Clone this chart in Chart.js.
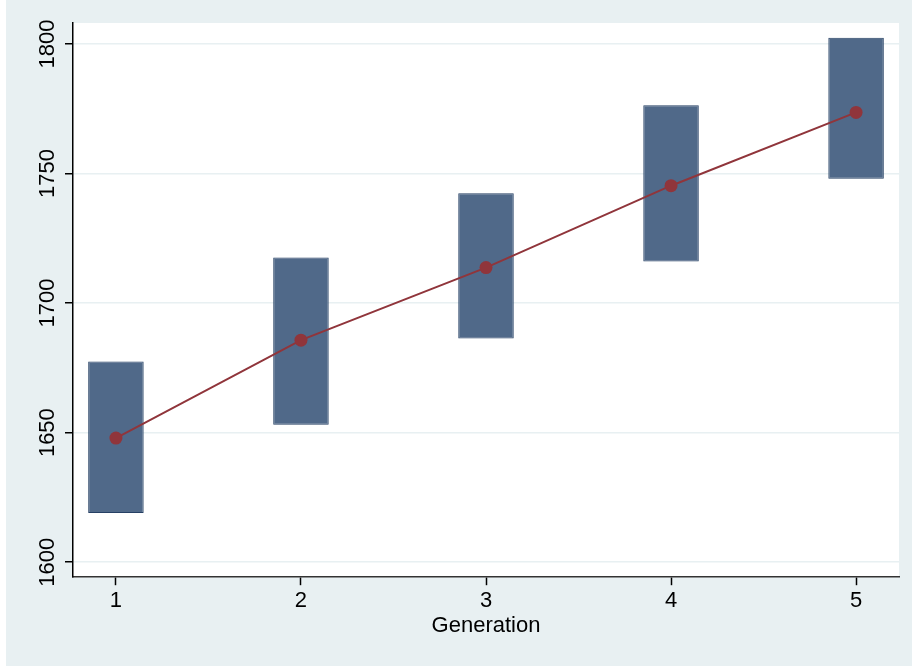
<!DOCTYPE html>
<html lang="en">
<head>
  <meta charset="UTF-8">
  <title>Generation</title>
  <script src="https://cdn.jsdelivr.net/npm/chart.js"></script>
  <style>
    body { margin: 0; background: #fff; }
    #wrap { position: absolute; left: 6px; top: 0; width: 906px; height: 666px; background: #e8f0f2; }
    canvas { display: block; }
  </style>
</head>
<body>
  <div id="wrap"><canvas id="grafico" width="906" height="666"></canvas></div>

  <script>
    // generation, interval bounds and means
    const generations = [1, 2, 3, 4, 5];
    const ciLow = [1619, 1653, 1686.3, 1716, 1748];
    const ciHigh = [1677.5, 1717.6, 1742.4, 1776.4, 1802.4];
    const means = [1647.9, 1685.7, 1713.7, 1745.3, 1773.6];
    const xTicks = [1, 2, 3, 4, 5];
    const yTicks = [1600, 1650, 1700, 1750, 1800];

    const fontFamily = '"Liberation Sans", Arial, Helvetica, sans-serif';

    // white plot region behind the marks
    const plotBg = {
      id: 'plotBg',
      beforeDraw(chart) {
        const a = chart.chartArea;
        const ctx = chart.ctx;
        ctx.save();
        ctx.fillStyle = '#ffffff';
        ctx.fillRect(a.left, a.top, a.right - a.left, a.bottom - a.top);
        ctx.restore();
      }
    };

    // vertical y tick labels (Stata style)
    const yLabels = {
      id: 'yLabels',
      afterDraw(chart) {
        const y = chart.scales.y;
        const ctx = chart.ctx;
        ctx.save();
        ctx.font = '22px ' + fontFamily;
        ctx.fillStyle = '#000';
        ctx.textAlign = 'center';
        ctx.textBaseline = 'middle';
        yTicks.forEach(v => {
          ctx.save();
          ctx.translate(y.right - 25, y.getPixelForValue(v));
          ctx.rotate(-Math.PI / 2);
          ctx.fillText(String(v), 0, 0);
          ctx.restore();
        });
        ctx.restore();
      }
    };

    const ctx = document.getElementById('grafico').getContext('2d');
    new Chart(ctx, {
      type: 'bar',
      data: {
        datasets: [
          {
            type: 'line',
            order: 0,
            data: generations.map((g, i) => ({ x: g, y: means[i] })),
            borderColor: 'rgb(144,53,59)',
            backgroundColor: 'rgb(144,53,59)',
            borderWidth: 2,
            pointRadius: 6.5,
            pointBorderWidth: 0,
            tension: 0
          },
          {
            type: 'bar',
            order: 1,
            data: generations.map((g, i) => ({ x: g, y: [ciLow[i], ciHigh[i]] })),
            backgroundColor: 'rgb(80,105,137)',
            borderColor: 'rgb(38,64,100)',
            borderWidth: 1,
            borderSkipped: false,
            barPercentage: 0.3,
            categoryPercentage: 1
          }
        ]
      },
      options: {
        responsive: false,
        animation: false,
        layout: { padding: { left: 0, right: 13, top: 23, bottom: 18 } },
        plugins: { legend: { display: false }, tooltip: { enabled: false } },
        scales: {
          x: {
            type: 'linear',
            min: 0.768,
            max: 5.232,
            offset: false,
            afterBuildTicks(scale) { scale.ticks = xTicks.map(v => ({ value: v })); },
            grid: { offset: false, drawOnChartArea: false, tickLength: 8, tickColor: '#000', tickWidth: 1.5 },
            border: { color: '#333', width: 1.5 },
            ticks: { color: '#000', font: { size: 22, family: fontFamily }, padding: 3 },
            title: { display: true, text: 'Generation', color: '#000', font: { size: 22, family: fontFamily }, padding: { top: -5, bottom: 9 } }
          },
          y: {
            min: 1594.2,
            max: 1808.1,
            afterBuildTicks(scale) { scale.ticks = yTicks.map(v => ({ value: v })); },
            afterFit(scale) { scale.width = 67; },
            grid: { color: 'rgb(232,240,242)', lineWidth: 1.5, tickLength: 8, tickColor: '#000', tickWidth: 1.5 },
            border: { color: '#000', width: 1.5 },
            ticks: { display: false }
          }
        }
      },
      plugins: [plotBg, yLabels]
    });
  </script>
</body>
</html>
